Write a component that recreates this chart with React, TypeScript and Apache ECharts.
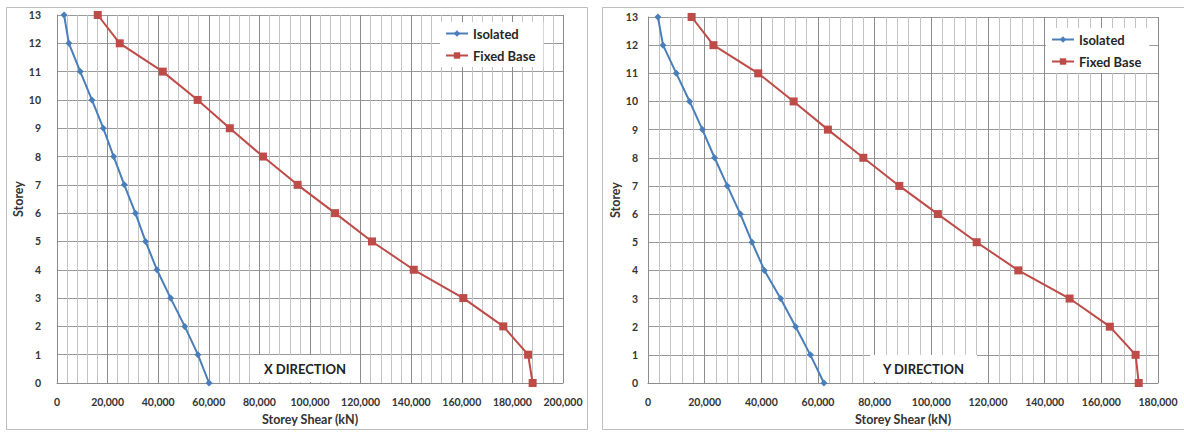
import React, { useEffect, useRef } from "react";
import * as echarts from "echarts";

// Storey numbers (0 = base, 13 = roof)
const storeys = [0, 1, 2, 3, 4, 5, 6, 7, 8, 9, 10, 11, 12, 13];

// X direction storey shear (kN), storey 0..13
const xIsolated = [60100, 55700, 50500, 44900, 39500, 35000, 31000, 26600, 22400, 18300, 13800, 9200, 4700, 2800];
const xFixedBase = [188000, 186200, 176400, 160600, 141000, 124500, 109900, 95100, 81400, 68300, 55600, 41800, 24800, 16100];

// Y direction storey shear (kN), storey 0..13
const yIsolated = [62100, 57300, 52100, 46800, 41100, 36700, 32600, 28000, 23500, 19200, 14700, 10000, 5300, 3500];
const yFixedBase = [173200, 172100, 163000, 148800, 130700, 116000, 102300, 88700, 76000, 63500, 51400, 38900, 23100, 15400];

const seriesNames = ["Isolated", "Fixed Base"];
const panelTitles = ["X DIRECTION", "Y DIRECTION"];
const xMax = [200000, 180000];
const xInterval = 20000;
const axisTitleX = "Storey Shear (kN)";
const axisTitleY = "Storey";

const FONT = "Lato, 'Open Sans', sans-serif";
const TXT = "#333333";
const BLUE = "#4A7EBB";
const RED = "#BE4B48";

const pairs = (vals: number[]) => vals.map((v, i) => [v, storeys[i]]);

function xAxisCfg(gridIndex: number, max: number) {
  return {
    type: "value",
    gridIndex,
    min: 0,
    max,
    interval: xInterval,
    name: axisTitleX,
    nameLocation: "middle",
    nameGap: 30,
    nameTextStyle: { fontFamily: FONT, fontWeight: "bold", fontSize: 12.5, color: TXT },
    axisLine: { show: true, lineStyle: { color: "#8c8c8c" } },
    axisTick: { show: false },
    axisLabel: {
      fontFamily: FONT,
      fontWeight: "bold",
      fontSize: 10.5,
      color: TXT,
      margin: 13,
      formatter: (v: number) => v.toLocaleString("en-US"),
    },
    splitLine: { show: true, lineStyle: { color: "#8c8c8c", width: 1 } },
    minorTick: { show: false, splitNumber: 5 },
    minorSplitLine: { show: true, lineStyle: { color: "#c4c4c4", width: 1 } },
  };
}

function yAxisCfg(gridIndex: number, labelMargin: number, nameGap: number) {
  return {
    type: "value",
    gridIndex,
    min: 0,
    max: 13,
    interval: 1,
    name: axisTitleY,
    nameLocation: "middle",
    nameRotate: 90,
    nameGap,
    nameTextStyle: { fontFamily: FONT, fontWeight: "bold", fontSize: 12.5, color: TXT },
    axisLine: { show: true, lineStyle: { color: "#8c8c8c" } },
    axisTick: { show: false },
    axisLabel: { fontFamily: FONT, fontWeight: "bold", fontSize: 10.5, color: TXT, margin: labelMargin },
    splitLine: { show: true, lineStyle: { color: "#9a9a9a", width: 1 } },
  };
}

function lineSeries(name: string, vals: number[], idx: number, isFixed: boolean) {
  return {
    type: "line",
    name,
    xAxisIndex: idx,
    yAxisIndex: idx,
    data: pairs(vals),
    symbol: isFixed ? "rect" : "diamond",
    symbolSize: isFixed ? 8 : 7,
    lineStyle: { color: isFixed ? RED : BLUE, width: 2 },
    itemStyle: { color: isFixed ? RED : BLUE },
  };
}

function legendCfg(left: number, top: number) {
  return {
    data: seriesNames,
    orient: "vertical",
    left,
    top,
    itemGap: 9,
    itemWidth: 22,
    itemHeight: 8,
    padding: [5, 8, 5, 5],
    backgroundColor: "#ffffff",
    textStyle: { fontFamily: FONT, fontWeight: "bold", fontSize: 13, color: "#262626" },
  };
}

function dirLabel(text: string, x: number, y: number, w: number, h: number) {
  return {
    type: "group",
    z: 100,
    children: [
      { type: "rect", shape: { x, y, width: w, height: h }, style: { fill: "#ffffff" }, z: 100 },
      {
        type: "text",
        x: x + w / 2,
        y: y + h / 2,
        z: 101,
        style: {
          text,
          fill: "#222222",
          font: `bold 13px ${FONT}`,
          textAlign: "center",
          textVerticalAlign: "middle",
        },
      },
    ],
  };
}

export default function App() {
  const ref = useRef<HTMLDivElement>(null);
  useEffect(() => {
    const chart = echarts.init(ref.current!, null, { renderer: "svg" });
    chart.setOption({
      animation: false,
      backgroundColor: "#ffffff",
      grid: [
        { left: 57, top: 15, width: 506, height: 368 },
        { left: 648, top: 17, width: 510, height: 366 },
      ],
      xAxis: [xAxisCfg(0, xMax[0]), xAxisCfg(1, xMax[1])],
      yAxis: [yAxisCfg(0, 16, 31), yAxisCfg(1, 10, 26)],
      legend: [legendCfg(440, 22), legendCfg(1046, 28)],
      series: [
        lineSeries(seriesNames[0], xIsolated, 0, false),
        lineSeries(seriesNames[1], xFixedBase, 0, true),
        lineSeries(seriesNames[0], yIsolated, 1, false),
        lineSeries(seriesNames[1], yFixedBase, 1, true),
      ],
      graphic: [
        {
          type: "rect",
          z: 90,
          shape: { x: 6.5, y: 7.5, width: 581, height: 422 },
          style: { fill: "none", stroke: "#bdbdbd", lineWidth: 1 },
        },
        {
          type: "rect",
          z: 90,
          shape: { x: 602.5, y: 7.5, width: 600, height: 422 },
          style: { fill: "none", stroke: "#bdbdbd", lineWidth: 1 },
        },
        dirLabel(panelTitles[0], 252, 355, 106, 27),
        dirLabel(panelTitles[1], 870, 355, 107, 27),
      ],
    });
    return () => chart.dispose();
  }, []);
  return (
    <div
      ref={ref}
      style={{ position: "absolute", left: 0, top: 0, width: 1184, height: 433, background: "#fff" }}
    />
  );
}
